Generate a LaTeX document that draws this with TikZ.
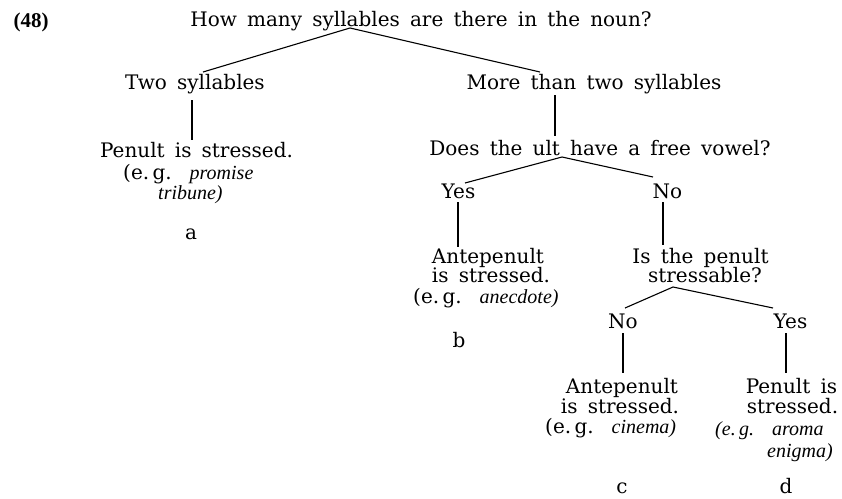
\documentclass[tikz,border=0pt]{standalone}
\usepackage{fontspec}
\setmainfont{DejaVu Serif}[WordSpace=1.6]
\newfontfamily\exfamily{Liberation Serif}
\tikzset{
  lbl/.style={inner sep=0pt, anchor=base, font=\fontsize{20}{22}\selectfont},
  lblw/.style={lbl, anchor=base west},
  edge/.style={line width=1.1pt, black},
}
\newcommand{\ex}[1]{{\exfamily\itshape\fontsize{20}{22}\selectfont #1}}
\newcommand{\eg}{(e.\,g.\hspace{0.9em}}
\begin{document}
\begin{tikzpicture}[x=1pt,y=-1pt]
\fill[white] (0,0) rectangle (842,498);
\useasboundingbox (0,0) rectangle (842,498);

\node[lbl, font=\exfamily\bfseries\fontsize{21}{22}\selectfont] (num) at (31,27) {(48)};
\node[lbl] (title) at (421,26) {How many syllables are there in the noun?};

\node[lbl] (two) at (195,89) {Two syllables};
\node[lbl] (more) at (594,89) {More than two syllables};

\node[lbl] (pen1) at (196.5,157) {Penult is stressed.};
\node[lblw] (pen1e) at (123,179) {\eg\ex{promise}};
\node[lblw] (pen1f) at (158,199) {\ex{tribune)}};
\node[lbl] (la) at (191,239) {a};

\node[lbl] (does) at (600,155) {Does the ult have a free vowel?};
\node[lbl] (yes1) at (458.5,198) {Yes};
\node[lbl] (no1) at (667.5,198) {No};

\node[lbl] (ante1) at (488,263) {Antepenult};
\node[lbl] (ante1b) at (491,282) {is stressed.};
\node[lblw] (ante1e) at (413,303) {\eg\ex{anecdote)}};
\node[lbl] (lb) at (459,347) {b};

\node[lbl] (isthe) at (700.5,263) {Is the penult};
\node[lbl] (stressable) at (705,282) {stressable?};
\node[lbl] (no2) at (623,328) {No};
\node[lbl] (yes2) at (790.5,328) {Yes};

\node[lbl] (ante2) at (622,393) {Antepenult};
\node[lbl] (ante2b) at (620,413) {is stressed.};
\node[lblw] (ante2e) at (545,433) {\eg\ex{cinema)}};
\node[lbl] (lc) at (622,493) {c};

\node[lbl] (pen2) at (791.5,393) {Penult is};
\node[lbl] (pen2b) at (792.5,413) {stressed.};
\node[lblw] (pen2e) at (715,435) {\ex{(e.\,g.\hspace{0.9em}aroma}};
\node[lblw] (pen2f) at (767,457) {\ex{enigma)}};
\node[lbl] (ld) at (786,493) {d};

% connectors
\draw[edge] ([shift={(8,-17)}]two.base) -- ([shift={(-71,2)}]title.base) -- ([shift={(-54,-17)}]more.base);
\draw[edge] ([shift={(-3,11)}]two.base) -- ([shift={(-4.5,-17)}]pen1.base);
\draw[edge] ([shift={(-39,6)}]more.base) -- ([shift={(-45,-19)}]does.base);
\draw[edge] ([shift={(6.5,-15)}]yes1.base) -- ([shift={(-38,2)}]does.base) -- ([shift={(-14.5,-21)}]no1.base);
\draw[edge] ([shift={(-0.5,4)}]yes1.base) -- ([shift={(-30,-16)}]ante1.base);
\draw[edge] ([shift={(-4.5,4)}]no1.base) -- ([shift={(-37.5,-18)}]isthe.base);
\draw[edge] ([shift={(2,-20)}]no2.base) -- ([shift={(-32,5)}]stressable.base) -- ([shift={(-17.5,-20)}]yes2.base);
\draw[edge] ([shift={(0,5)}]no2.base) -- ([shift={(1,-20)}]ante2.base);
\draw[edge] ([shift={(-4.5,5)}]yes2.base) -- ([shift={(-5.5,-20)}]pen2.base);
\end{tikzpicture}
\end{document}
